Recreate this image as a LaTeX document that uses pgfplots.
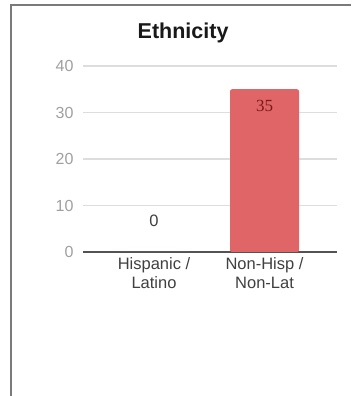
\documentclass[border=0pt]{standalone}
\usepackage{fontspec}
\setmainfont{Liberation Sans}
\newfontfamily\seriffont{Liberation Serif}
\usepackage{pgfplots}
\pgfplotsset{compat=1.18}
\definecolor{barred}{HTML}{E06566}
\definecolor{framegray}{HTML}{7A7A7A}
\definecolor{gridgray}{HTML}{DDDDDD}
\definecolor{ticktext}{HTML}{A0A0A0}
\definecolor{labtext}{HTML}{404040}
\definecolor{valred}{HTML}{7A1A1A}
\begin{document}
\begin{tikzpicture}
\path[use as bounding box] (0pt,0pt) rectangle (351pt,396pt);
\fill[white] (0pt,0pt) rectangle (351pt,396pt);
\draw[framegray, line width=2.5pt] (11pt,-2pt) -- (11pt,391pt) -- (351pt,391pt);
\begin{axis}[
  at={(83pt,144pt)}, anchor=south west,
  scale only axis, width=254pt, height=186pt,
  xmin=-0.643, xmax=1.656, ymin=0, ymax=40,
  xtick={0,1}, xticklabels={{Hispanic /\\Latino},{Non-Hisp /\\Non-Lat}},
  ytick={0,10,20,30,40},
  axis line style={draw=none},
  major tick length=0pt,
  ymajorgrids, grid style={gridgray, line width=1.2pt},
  extra y ticks={0}, extra y tick labels={},
  extra y tick style={grid style={draw=labtext!90, line width=2pt}},
  /pgf/number format/assume math mode=true,
  yticklabel style={text=ticktext, font=\fontsize{16}{18}\selectfont, xshift=-6pt},
  xticklabel style={text=labtext, align=center, font=\fontsize{16.5}{19}\selectfont, yshift=-2pt},
  title={Ethnicity},
  title style={at={(axis description cs:0.394,1)}, anchor=south, yshift=14pt, font=\fontsize{21.5}{24}\selectfont\bfseries, text=black!90},
  ybar, bar width=69pt,
  clip=false,
]
\addplot[fill=barred, draw=none, bar shift=0pt,
  nodes near coords,
  every node near coord/.append style={text=labtext, font=\fontsize{16.5}{18}\selectfont, anchor=south, yshift=22pt}]
  coordinates {(0,0)};
\addplot[fill=barred, draw=none, bar shift=0pt, rounded corners=2pt,
  nodes near coords,
  every node near coord/.append style={text=valred, font=\fontsize{17}{19}\selectfont\seriffont, anchor=north, yshift=-7pt}]
  coordinates {(1,35)};
\end{axis}
\end{tikzpicture}
\end{document}
